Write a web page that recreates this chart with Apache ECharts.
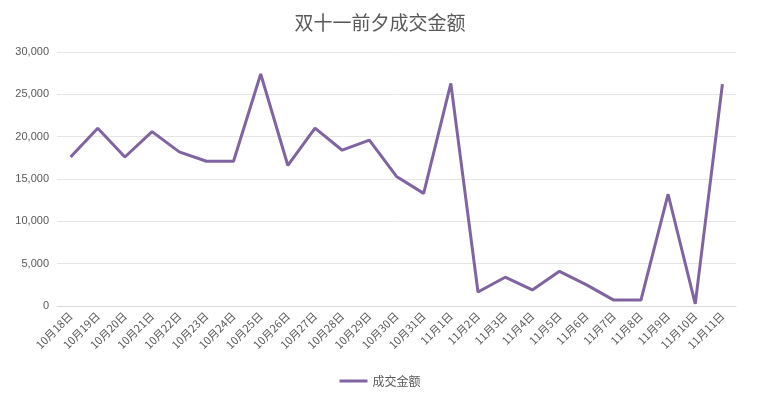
<!DOCTYPE html>
<html><head><meta charset="utf-8">
<script src="https://cdn.jsdelivr.net/npm/echarts@6/dist/echarts.min.js"></script>
<style>html,body{margin:0;padding:0;background:#fff}#c{width:760px;height:406px}</style>
</head><body><div id="c"></div>
<script>
const categories=["10月18日","10月19日","10月20日","10月21日","10月22日","10月23日","10月24日","10月25日","10月26日","10月27日","10月28日","10月29日","10月30日","10月31日","11月1日","11月2日","11月3日","11月4日","11月5日","11月6日","11月7日","11月8日","11月9日","11月10日","11月11日"];
const values=[17600,21000,17600,20600,18200,17100,17100,27400,16600,21000,18400,19600,15300,13300,26300,1650,3400,1900,4100,2500,700,700,13200,250,26200];
const chart=echarts.init(document.getElementById('c'));
chart.setOption({
  title:{text:'双十一前夕成交金额',left:'center',top:8,textStyle:{color:'#595959',fontSize:19,fontWeight:'normal',fontFamily:'Noto Sans CJK SC'}},
  legend:{bottom:14,itemWidth:28,itemHeight:3,icon:'rect',textStyle:{color:'#595959',fontSize:12,fontFamily:'Noto Sans CJK SC'},data:['成交金额']},
  grid:{left:57,right:24,top:52,bottom:100},
  xAxis:{type:'category',data:categories,boundaryGap:true,
    axisLine:{lineStyle:{color:'#d9d9d9'}},axisTick:{show:false},
    axisLabel:{rotate:45,color:'#595959',fontSize:11,interval:0,fontFamily:'Noto Sans CJK SC'}},
  yAxis:{type:'value',min:0,max:30000,interval:5000,
    axisLine:{show:false},axisTick:{show:false},
    axisLabel:{color:'#595959',fontSize:11},
    splitLine:{lineStyle:{color:'#e5e5e5'}}},
  series:[{name:'成交金额',type:'line',data:values,symbol:'none',
    lineStyle:{color:'#8064a2',width:3},itemStyle:{color:'#8064a2'}}]
});
</script></body></html>
